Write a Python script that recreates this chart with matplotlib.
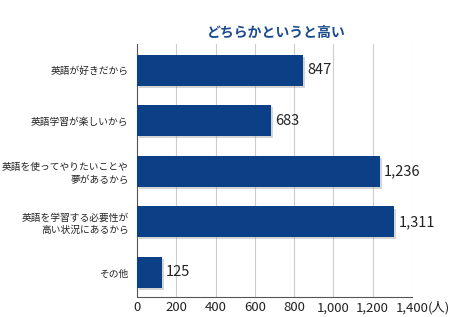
import matplotlib
matplotlib.use("Agg")
import matplotlib.pyplot as plt
import matplotlib.patheffects as pe

plt.rcParams['font.family'] = ['Noto Sans CJK JP', 'DejaVu Sans']

categories = ["英語が好きだから", "英語学習が楽しいから", "英語を使ってやりたいことや\n夢があるから",
              "英語を学習する必要性が\n高い状況にあるから", "その他"]
values = [847, 683, 1236, 1311, 125]
ticks = [0, 200, 400, 600, 800, 1000, 1200, 1400]
tick_labels = ["0", "200", "400", "600", "800", "1,000", "1,200", "1,400"]
unit = "(人)"
title = "どちらかというと高い"

fig = plt.figure(figsize=(4.65, 3.17), dpi=100)
ax = fig.add_axes([0.2946, 0.063, 0.591, 0.798])

ypos = list(range(len(categories)))
ax.barh(ypos, values, height=0.61, color="#0b4087", zorder=3,
        path_effects=[pe.SimplePatchShadow(offset=(1.5, -1.5), shadow_rgbFace="#888888", alpha=0.35), pe.Normal()])
for y, v in zip(ypos, values):
    ax.text(v + 22, y, f"{v:,}", va="center", ha="left", fontsize=10.5, color="#222222")

ax.set_ylim(4.485, -0.515)
ax.set_xlim(0, 1400)
ax.set_yticks(ypos)
ax.set_yticklabels(categories, fontsize=7, linespacing=1.3, color="#222222")
ax.set_xticks(ticks)
ax.set_xticklabels(tick_labels, fontsize=9.5, color="#222222")
ax.annotate(unit, xy=(1400, 0), xycoords=("data", "axes fraction"), xytext=(11.5, -3),
            textcoords="offset points", ha="left", va="top", fontsize=9.5, color="#222222")
ax.tick_params(axis="y", length=0, pad=6)
ax.tick_params(axis="x", length=0, pad=3)
ax.xaxis.grid(True, color="#cccccc", linewidth=0.8, zorder=0)
for s in ["top", "right"]:
    ax.spines[s].set_visible(False)
ax.spines["left"].set_color("#555555")
ax.spines["bottom"].set_color("#555555")

fig.text(0.594, 0.897, title, ha="center", va="center", fontsize=10, fontweight="bold", color="#1b4b8f")

fig.savefig("out.png", dpi=100)
